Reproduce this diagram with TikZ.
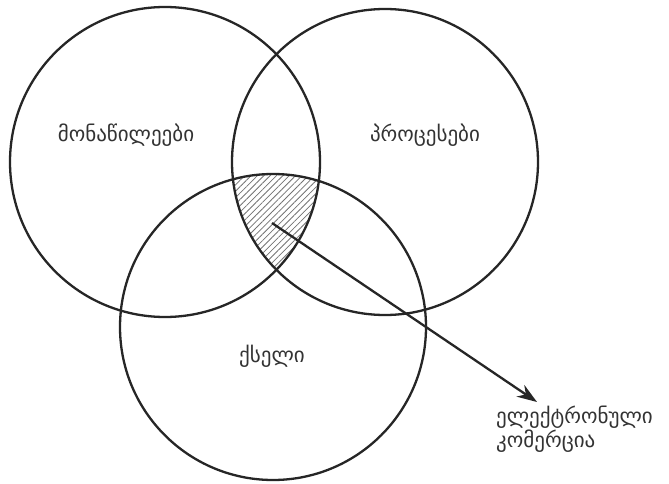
\documentclass[tikz,border=0pt]{standalone}
\usepackage{fontspec}
\newfontfamily\geofont{DejaVu Sans}
\usetikzlibrary{arrows.meta, patterns.meta}

\begin{document}
\begin{tikzpicture}[x=1pt, y=-1pt,
        every node/.style={font=\geofont\fontsize{21}{16}\selectfont, text=black!80},
        setline/.style={draw=black!85, line width=2.3pt},
        hatch/.style={pattern={Lines[angle=45, distance=4.5pt, line width=0.8pt]}, pattern color=black!55}]
        \useasboundingbox (0,0) rectangle (669,484);
        \fill[white] (0,0) rectangle (669,484);

        \coordinate (cParts) at (165,162);
        \coordinate (cProcs) at (385,162);
        \coordinate (cNet) at (273,327);

        % common part of the three sets
        \begin{scope}
            \clip (cParts) circle [radius=155];
            \clip (cProcs) circle [radius=153];
            \fill[hatch] (cNet) circle [radius=153];
        \end{scope}

        \draw[setline] (cParts) circle [radius=155];
        \draw[setline] (cProcs) circle [radius=153];
        \draw[setline] (cNet) circle [radius=153];

        \node (parts) at (126,135) {მონაწილეები};
        \node (procs) at (425,135) {პროცესები};
        \node (net) at (272,356) {ქსელი};
        \node[anchor=west, align=left, inner sep=0pt] (ecom) at (496,429) {ელექტრონული\\კომერცია};

        \coordinate (ecStart) at (272,223);
        \coordinate (ecTip) at (537,402);
        \draw[line width=2.3pt, draw=black!85, -{Stealth[length=20pt, width=14pt]}] (ecStart) -- (ecTip);
    \end{tikzpicture}
\end{document}
